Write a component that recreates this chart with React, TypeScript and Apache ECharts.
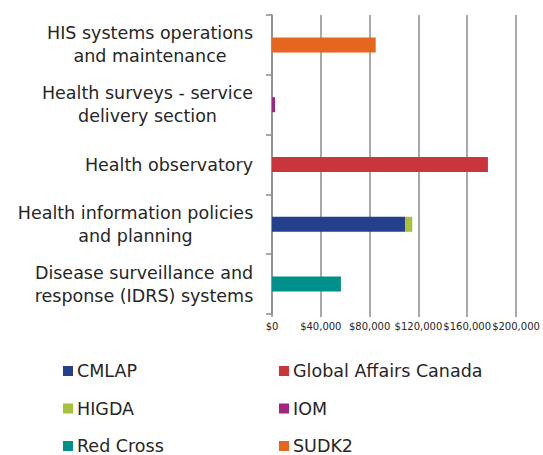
import React, { useEffect, useRef } from "react";
import * as echarts from "echarts";

const categories = [
  "Disease surveillance and\nresponse (IDRS) systems",
  "Health information policies\nand planning",
  "Health observatory",
  "Health surveys - service\ndelivery section",
  "HIS systems operations\nand maintenance",
];
const seriesNames = ["CMLAP", "Global Affairs Canada", "HIGDA", "IOM", "Red Cross", "SUDK2"];
const cmlap = [null, 109000, null, null, null];
const globalAffairsCanada = [null, null, 177000, null, null];
const higda = [null, 6000, null, null, null];
const iom = [null, null, null, 2500, null];
const redCross = [56500, null, null, null, null];
const sudk2 = [null, null, null, null, 85000];
const xTicks = [0, 40000, 80000, 120000, 160000, 200000];

const colors = ["#243F8C", "#C9353A", "#A8C03A", "#A3257B", "#00908A", "#E5661F"];
const FONT = "DejaVu Sans";
const LABEL_SIZE = 17.5;

export default function App() {
  const ref = useRef<HTMLDivElement>(null);
  useEffect(() => {
    if (!ref.current) return;
    const chart = echarts.init(ref.current, null, { renderer: "svg" });
    const ctx = document.createElement("canvas").getContext("2d")!;
    ctx.font = `${LABEL_SIZE}px "${FONT}"`;
    const rich: Record<string, any> = {};
    categories.forEach((c, i) => {
      const w = Math.max(...c.split("\n").map((l) => ctx.measureText(l).width));
      rich["c" + i] = {
        width: Math.ceil(w) + 1,
        align: "center",
        fontSize: LABEL_SIZE,
        lineHeight: 23,
        fontFamily: FONT,
        color: "#262626",
      };
    });
    const dataArr = [cmlap, globalAffairsCanada, higda, iom, redCross, sudk2];
    const legendCommon = {
      orient: "vertical",
      top: 362,
      height: 120,
      padding: 0,
      itemWidth: 10,
      itemHeight: 10,
      itemGap: 19.5,
      icon: "rect",
      textStyle: { fontFamily: FONT, fontSize: 17.5, color: "#262626", lineHeight: 18, padding: [0, 0, 0, -1] },
    };
    chart.setOption({
      animation: false,
      color: colors,
      grid: { left: 272, right: 27, top: 15, bottom: 141, containLabel: false },
      xAxis: {
        type: "value",
        min: xTicks[0],
        max: xTicks[xTicks.length - 1],
        interval: 40000,
        axisLine: { show: false },
        axisTick: { show: true, length: 3, lineStyle: { color: "#8C8C8C", width: 1.5 } },
        splitLine: { show: true, lineStyle: { color: "#8C8C8C", width: 1.5 } },
        axisLabel: {
          fontFamily: FONT,
          fontSize: 10,
          color: "#262626",
          margin: 7,
          showMinLabel: true,
          showMaxLabel: true,
          hideOverlap: false,
          formatter: (v: number) => "$" + v.toLocaleString("en-US"),
        },
      },
      yAxis: {
        type: "category",
        data: categories,
        axisLine: { show: true, lineStyle: { color: "#8C8C8C", width: 1.5 } },
        axisTick: { show: true, length: 6, lineStyle: { color: "#8C8C8C", width: 1.5 } },
        axisLabel: {
          margin: 18,
          align: "right",
          formatter: (v: string) => {
            const i = categories.indexOf(v);
            return v
              .split("\n")
              .map((l) => `{c${i}|${l}}`)
              .join("\n");
          },
          rich,
        },
      },
      legend: [
        { ...legendCommon, left: 63, data: [seriesNames[0], seriesNames[2], seriesNames[4]] },
        { ...legendCommon, left: 279, data: [seriesNames[1], seriesNames[3], seriesNames[5]] },
      ],
      series: seriesNames.map((name, i) => ({
        name,
        type: "bar",
        stack: "total",
        barWidth: 15,
        data: dataArr[i],
        itemStyle: { color: colors[i] },
      })),
    });
    return () => chart.dispose();
  }, []);
  return <div ref={ref} style={{ position: "absolute", left: 0, top: 0, width: 543, height: 455 }} />;
}
